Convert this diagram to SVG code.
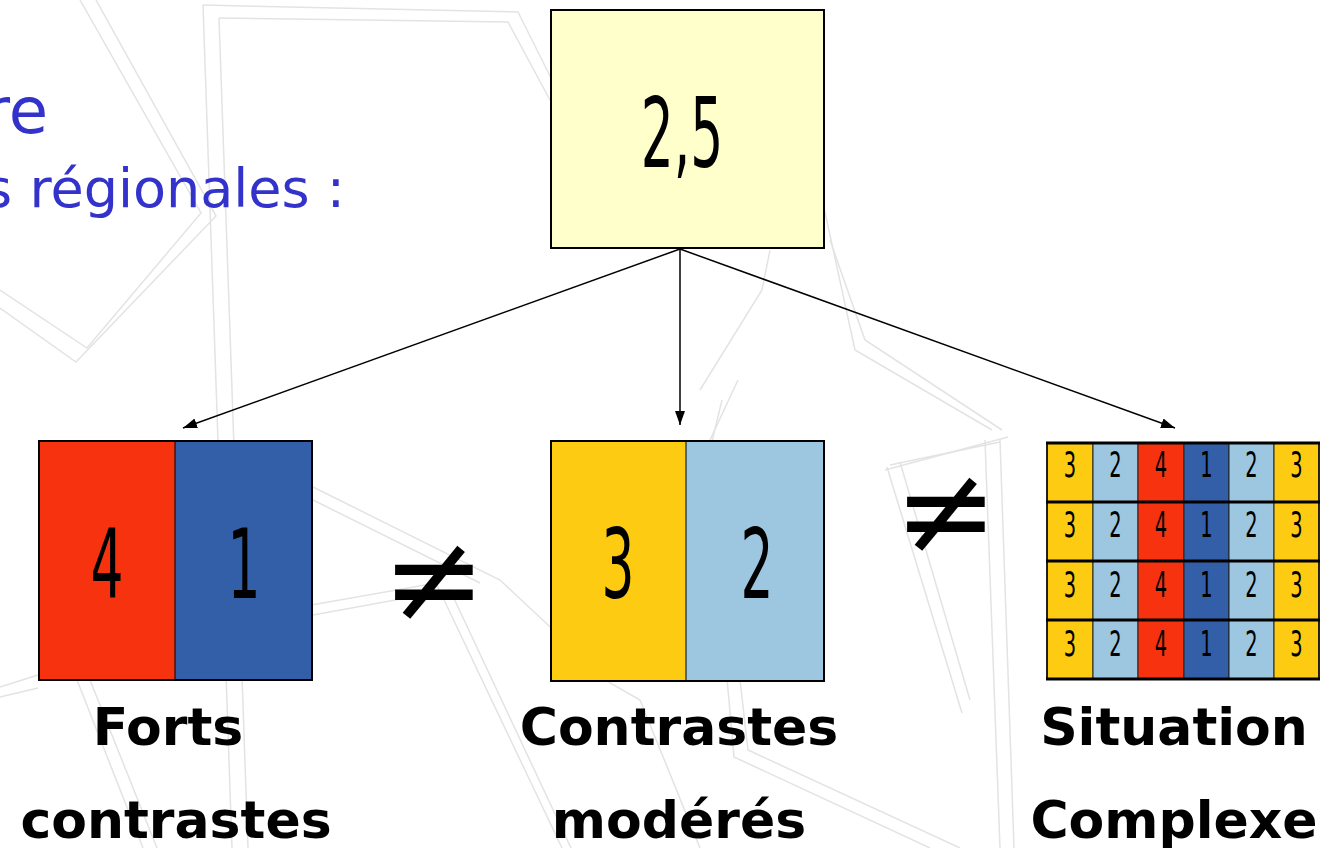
<svg xmlns="http://www.w3.org/2000/svg" width="1331" height="848" viewBox="0 0 1331 848">
  <defs>
    <marker id="arrow" markerUnits="userSpaceOnUse" markerWidth="16" markerHeight="12" refX="14" refY="5" orient="auto">
      <path d="M0,0 L14,5 L0,10 z" fill="#000"/>
    </marker>
    <style>
      .bg { fill: none; stroke: #e3e3e3; stroke-width: 1.5; }
      .dig { font-family: "DejaVu Sans Condensed", "DejaVu Sans", sans-serif; font-size: 96px; fill: #000; text-anchor: middle; }
      .gd { font-family: "DejaVu Sans Condensed", "DejaVu Sans", sans-serif; font-size: 36px; fill: #000; text-anchor: middle; }
      .lbl { font-family: "DejaVu Sans", Verdana, sans-serif; font-weight: bold; font-size: 52px; fill: #000; text-anchor: middle; }
      .blue { font-family: "DejaVu Sans", Verdana, sans-serif; fill: #3333cc; text-anchor: end; }
      .neq { font-family: "DejaVu Sans", sans-serif; font-size: 124px; fill: #000; text-anchor: middle; }
      .conn { stroke: #000; stroke-width: 1.5; fill: none; marker-end: url(#arrow); }
      .cell { stroke: #222; stroke-width: 1; }
    </style>
  </defs>
  <rect width="1331" height="848" fill="#fff"/>

  <g id="background">
    <polyline class="bg" points="80,0 201,213 87,348 0,290"/>
    <polyline class="bg" points="96,0 216,216 76,362 0,308"/>
    <polyline class="bg" points="203,5 232,848"/>
    <polyline class="bg" points="219,18 248,848"/>
    <polyline class="bg" points="203,5 518,12 562,100"/>
    <polyline class="bg" points="219,18 508,22 550,100"/>
    <polyline class="bg" points="818,180 855,350 992,430"/>
    <polyline class="bg" points="830,240 865,340 1002,430"/>
    <polyline class="bg" points="770,250 762,290 700,390"/>
    <polyline class="bg" points="738,380 710,440"/>
    <polyline class="bg" points="885,470 1008,437"/>
    <polyline class="bg" points="890,465 1000,442"/>
    <polyline class="bg" points="887,467 962,713"/>
    <polyline class="bg" points="900,462 970,700"/>
    <polyline class="bg" points="313,487 500,580 610,683 640,700"/>
    <polyline class="bg" points="313,500 480,583"/>
    <polyline class="bg" points="300,607 436,583 562,848"/>
    <polyline class="bg" points="313,615 450,590 571,848"/>
    <polyline class="bg" points="722,400 702,483"/>
    <polyline class="bg" points="726,667 734,757 930,848"/>
    <polyline class="bg" points="740,680 748,750 960,848"/>
    <polyline class="bg" points="0,687 38,675"/>
    <polyline class="bg" points="0,697 38,688"/>
    <polyline class="bg" points="77,680 143,848"/>
    <polyline class="bg" points="90,680 157,848"/>
    <polyline class="bg" points="985,440 1000,848"/>
    <polyline class="bg" points="1000,440 1014,848"/>
    <polyline class="bg" points="640,700 700,848"/>
  </g>

  <g id="title">
    <text class="blue" x="48" y="133" font-size="64">re</text>
    <text class="blue" x="345" y="207" font-size="54">s régionales :</text>
  </g>

  <g id="connectors">
    <line class="conn" x1="680" y1="249" x2="183" y2="428"/>
    <line class="conn" x1="680" y1="249" x2="680" y2="425"/>
    <line class="conn" x1="680" y1="249" x2="1175" y2="428"/>
  </g>

  <g id="node-mean">
    <rect x="551" y="10" width="273" height="238" fill="#ffffcc" stroke="#000" stroke-width="2"/>
    <text class="dig" transform="translate(682,167) scale(0.6,1)">2,5</text>
  </g>

  <g id="node-forts">
    <rect x="39" y="441" width="136" height="239" fill="#f7330f"/>
    <rect x="175" y="441" width="137" height="239" fill="#335fa8"/>
    <line x1="175" y1="441" x2="175" y2="680" stroke="#000" stroke-width="1"/>
    <rect x="39" y="441" width="273" height="239" fill="none" stroke="#000" stroke-width="2"/>
    <text class="dig" transform="translate(107,598) scale(0.6,1)">4</text>
    <text class="dig" transform="translate(244,598) scale(0.6,1)">1</text>
    <text class="lbl" x="168" y="745">Forts</text>
    <text class="lbl" x="176" y="838">contrastes</text>
  </g>

  <g id="node-moderes">
    <rect x="551" y="441" width="135" height="240" fill="#fccb12"/>
    <rect x="686" y="441" width="138" height="240" fill="#9dc6e0"/>
    <line x1="686" y1="441" x2="686" y2="681" stroke="#000" stroke-width="1"/>
    <rect x="551" y="441" width="273" height="240" fill="none" stroke="#000" stroke-width="2"/>
    <text class="dig" transform="translate(618,598) scale(0.6,1)">3</text>
    <text class="dig" transform="translate(757,598) scale(0.6,1)">2</text>
    <text class="lbl" x="679" y="745">Contrastes</text>
    <text class="lbl" x="679" y="838">modérés</text>
  </g>

  <g id="node-complexe">
    <g class="cell">
      <rect x="1047" y="443" width="46" height="236" fill="#fccb12"/>
      <rect x="1093" y="443" width="45" height="236" fill="#9dc6e0"/>
      <rect x="1138" y="443" width="46" height="236" fill="#f7330f"/>
      <rect x="1184" y="443" width="45" height="236" fill="#335fa8"/>
      <rect x="1229" y="443" width="45" height="236" fill="#9dc6e0"/>
      <rect x="1274" y="443" width="45" height="236" fill="#fccb12"/>
    </g>
    <g stroke="#000" stroke-width="3">
      <line x1="1046" y1="443" x2="1320" y2="443"/>
      <line x1="1046" y1="502" x2="1320" y2="502"/>
      <line x1="1046" y1="561" x2="1320" y2="561"/>
      <line x1="1046" y1="620" x2="1320" y2="620"/>
      <line x1="1046" y1="679" x2="1320" y2="679"/>
    </g>
    <g stroke="#000" stroke-width="1.5">
      <line x1="1047" y1="443" x2="1047" y2="679"/>
      <line x1="1319" y1="443" x2="1319" y2="679"/>
    </g>
    <g class="gd">
      <text transform="translate(1070,477) scale(0.6,1)">3</text>
      <text transform="translate(1115.5,477) scale(0.6,1)">2</text>
      <text transform="translate(1161,477) scale(0.6,1)">4</text>
      <text transform="translate(1206.5,477) scale(0.6,1)">1</text>
      <text transform="translate(1251.5,477) scale(0.6,1)">2</text>
      <text transform="translate(1296.5,477) scale(0.6,1)">3</text>
      <text transform="translate(1070,537) scale(0.6,1)">3</text>
      <text transform="translate(1115.5,537) scale(0.6,1)">2</text>
      <text transform="translate(1161,537) scale(0.6,1)">4</text>
      <text transform="translate(1206.5,537) scale(0.6,1)">1</text>
      <text transform="translate(1251.5,537) scale(0.6,1)">2</text>
      <text transform="translate(1296.5,537) scale(0.6,1)">3</text>
      <text transform="translate(1070,597) scale(0.6,1)">3</text>
      <text transform="translate(1115.5,597) scale(0.6,1)">2</text>
      <text transform="translate(1161,597) scale(0.6,1)">4</text>
      <text transform="translate(1206.5,597) scale(0.6,1)">1</text>
      <text transform="translate(1251.5,597) scale(0.6,1)">2</text>
      <text transform="translate(1296.5,597) scale(0.6,1)">3</text>
      <text transform="translate(1070,656) scale(0.6,1)">3</text>
      <text transform="translate(1115.5,656) scale(0.6,1)">2</text>
      <text transform="translate(1161,656) scale(0.6,1)">4</text>
      <text transform="translate(1206.5,656) scale(0.6,1)">1</text>
      <text transform="translate(1251.5,656) scale(0.6,1)">2</text>
      <text transform="translate(1296.5,656) scale(0.6,1)">3</text>
    </g>
    <text class="lbl" x="1174" y="745">Situation</text>
    <text class="lbl" x="1174" y="838">Complexe</text>
  </g>

  <g id="neq-1">
    <text class="neq" x="434" y="621">≠</text>
  </g>
  <g id="neq-2">
    <text class="neq" x="946" y="553">≠</text>
  </g>
</svg>
